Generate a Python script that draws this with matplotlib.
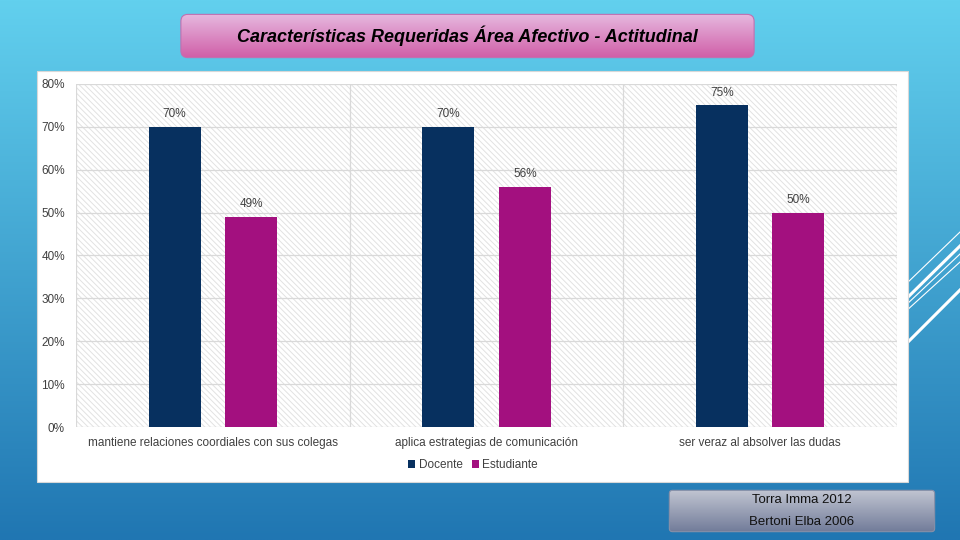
import matplotlib
matplotlib.use("Agg")
import matplotlib.pyplot as plt
import numpy as np
from matplotlib.patches import FancyBboxPatch, Rectangle

plt.rcParams['font.family'] = ['Liberation Sans', 'DejaVu Sans']
plt.rcParams['hatch.linewidth'] = 0.7

categories = ['mantiene relaciones coordiales con sus colegas',
              'aplica estrategias de comunicación',
              'ser veraz al absolver las dudas']
docente = [70, 70, 75]
estudiante = [49, 56, 50]
series = ['Docente', 'Estudiante']
colors = ['#07305f', '#a3107f']
yticks = [0, 10, 20, 30, 40, 50, 60, 70, 80]

W, H = 960, 540
fig = plt.figure(figsize=(9.6, 5.4), dpi=100)

def fbox(x0, y0, x1, y1):
    # pixel box (top-left origin) -> figure fraction rect
    return [x0 / W, 1 - y1 / H, (x1 - x0) / W, (y1 - y0) / H]

# background gradient
bg = fig.add_axes([0, 0, 1, 1])
bg.set_xlim(0, W)
bg.set_ylim(H, 0)
bg.axis('off')
t = np.linspace(0, 1, 256)[:, None]
top = np.array([98, 208, 238]) / 255
bot = np.array([32, 118, 178]) / 255
grad = top * (1 - t[..., None]) + bot * t[..., None]
grad = np.repeat(grad, 4, axis=1)
bg.imshow(grad, extent=[0, W, H, 0], aspect='auto', zorder=0)

# decorative diagonal lines on the right
for (x0, y0, x1, y1, lw) in [(905, 285, 960, 232, 0.8), (905, 300, 960, 246, 2.2),
                              (905, 306, 960, 254, 0.8), (905, 312, 960, 262, 0.8),
                              (905, 345, 960, 290, 2.2)]:
    bg.plot([x0, x1], [y0, y1], color='white', lw=lw, zorder=1)

# white chart panel
bg.add_patch(Rectangle((37, 71), 871, 411, facecolor='white', edgecolor='#d8d8d8',
                       lw=0.8, zorder=2))

# gradient boxes
def grad_box(x0, y0, x1, y1, c_top, c_bot, edge):
    ax = fig.add_axes(fbox(x0, y0, x1, y1))
    ax.set_xlim(0, 1)
    ax.set_ylim(0, 1)
    ax.axis('off')
    tt = np.linspace(0, 1, 64)[:, None, None]
    g = np.array(c_top) / 255 * (1 - tt) + np.array(c_bot) / 255 * tt
    g = np.repeat(g, 2, axis=1)
    im = ax.imshow(g, extent=[0, 1, 0, 1], aspect='auto', zorder=0)
    p = FancyBboxPatch((0.005, 0.03), 0.99, 0.94,
                       boxstyle='round,pad=0,rounding_size=0.012',
                       mutation_aspect=(x1 - x0) / (y1 - y0),
                       facecolor='none', edgecolor=edge, lw=0.8,
                       transform=ax.transAxes)
    ax.add_patch(p)
    im.set_clip_path(p)
    return ax

tax = grad_box(178, 13, 757, 59, (230, 186, 224), (208, 92, 166), '#c070b0')
tax.text(0.5, 0.5, 'Características Requeridas Área Afectivo - Actitudinal',
         ha='center', va='center', fontsize=13, fontweight='bold',
         fontstyle='italic', color='black')

sax = grad_box(668, 489, 936, 533, (196, 200, 212), (112, 122, 152), '#8890a8')
sax.text(0.5, 0.74, 'Torra Imma 2012', ha='center', va='center', fontsize=9.5, color='#111111')
sax.text(0.5, 0.25, 'Bertoni Elba 2006', ha='center', va='center', fontsize=9.5, color='#111111')

# main chart
ax = fig.add_axes(fbox(76, 84, 897, 427))
ax.set_facecolor('white')
ax.patch.set_hatch('\\\\\\\\\\\\')
ax.patch.set_edgecolor('#e2e2e2')
ax.patch.set_linewidth(0)
x = np.arange(len(categories))
bw = 0.19
off = 0.14
ax.bar(x - off, docente, bw, color=colors[0], label=series[0], zorder=3)
ax.bar(x + off, estudiante, bw, color=colors[1], label=series[1], zorder=3)
for xi, v in zip(x - off, docente):
    ax.text(xi, v + 1.6, f'{v}%', ha='center', va='bottom', fontsize=8.5, color='#404040')
for xi, v in zip(x + off, estudiante):
    ax.text(xi, v + 1.6, f'{v}%', ha='center', va='bottom', fontsize=8.5, color='#404040')

ax.set_xlim(-0.5, len(categories) - 0.5)
ax.set_ylim(0, 80)
ax.set_yticks(yticks)
ax.set_yticklabels([f'{v}%' for v in yticks])
ax.set_xticks(x)
ax.set_xticklabels(categories)
ax.tick_params(axis='both', length=0, labelsize=8.5, labelcolor='#404040')
ax.tick_params(axis='y', pad=8)
ax.tick_params(axis='x', pad=7)
for v in yticks:
    ax.axhline(v, color='#d9d9d9', lw=0.9, zorder=1)
for b in np.arange(-0.5, len(categories), 1):
    ax.axvline(b, color='#d9d9d9', lw=0.9, zorder=1)
for s in ax.spines.values():
    s.set_visible(False)

fig.legend(loc='center', bbox_to_anchor=(473 / W, 1 - 465 / H), ncol=2,
           frameon=False, fontsize=8.5, handlelength=0.6, handleheight=0.6,
           handletextpad=0.3, columnspacing=0.8, labelcolor='#404040')

fig.savefig('out.png', dpi=100)
